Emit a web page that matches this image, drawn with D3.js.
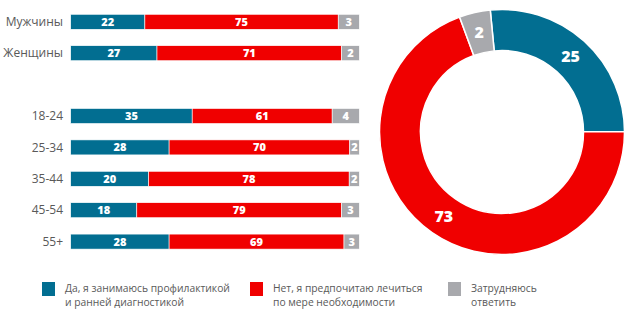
<!DOCTYPE html>
<html><head><meta charset="utf-8">
<script src="https://cdn.jsdelivr.net/npm/d3@7"></script>
<style>
html,body{margin:0;padding:0;background:#fff;}
svg{display:block;font-family:"Open Sans",sans-serif;}
</style></head>
<body><svg id="c" width="642" height="322"></svg>
<script>
// ---- data ----
const categories = ["Мужчины","Женщины","","18-24","25-34","35-44","45-54","55+"];
// printed values (labels)
const yesValues  = [22, 27, null, 35, 28, 20, 18, 28];
const noValues   = [75, 71, null, 61, 70, 78, 79, 69];
const hardValues = [3, 2, null, 4, 2, 2, 3, 3];
// segment lengths as drawn in the picture (% of bar length)
const yesShares  = [25.7, 29.9, null, 42.1, 34.1, 27.0, 22.9, 34.1];
const noShares   = [67.0, 64.0, null, 48.5, 62.6, 69.5, 71.0, 60.6];
const hardShares = [7.3, 6.1, null, 9.4, 3.3, 3.5, 6.1, 5.3];
// donut
const totalValues = [25, 73, 2];
const totalShares = [26.5, 69.4, 4.1];
const legendLines = [
  ["Да, я занимаюсь профилактикой","и ранней диагностикой"],
  ["Нет, я предпочитаю лечиться","по мере необходимости"],
  ["Затрудняюсь","ответить"]
];
const colors = ["#026e91","#f00000","#a8a9ad"];

const svg = d3.select("#c");

// ---- bars ----
const x = d3.scaleLinear().domain([0,100]).range([70.7,359.3]);
const y = d3.scalePoint().domain(categories.map((c,i)=>i)).range([21.8,241.6]);
const barH = 15;

const rows = categories.map((c,i)=>({c,i,
  vals:[yesValues[i],noValues[i],hardValues[i]],
  shares:[yesShares[i],noShares[i],hardShares[i]]})).filter(r=>r.c!=="");

const g = svg.append("g");
rows.forEach(r=>{
  let acc = 0;
  const yc = y(r.i);
  g.append("text").attr("x",63).attr("y",yc).attr("dy","0.35em")
    .attr("text-anchor","end").attr("fill","#595959").attr("font-size",12)
    .text(r.c);
  r.vals.forEach((v,k)=>{
    const s = r.shares[k];
    const x0 = x(acc), x1 = x(acc+s);
    g.append("rect").attr("x",x0).attr("y",yc-barH/2).attr("width",x1-x0).attr("height",barH)
      .attr("fill",colors[k]).attr("stroke","#fff").attr("stroke-width",0.6);
    g.append("text").attr("x",(x0+x1)/2).attr("y",yc).attr("dy","0.36em")
      .attr("text-anchor","middle").attr("fill","#fff").attr("font-size",11)
      .attr("font-weight",800).text(v);
    acc += s;
  });
});

// ---- donut ----
const cx = 502, cy = 132, R = 122.5, r0 = 81.5;
const start = -5.5*Math.PI/180;
const pie = d3.pie().sort(null).value(d=>d.s).startAngle(start).endAngle(start+2*Math.PI);
const arc = d3.arc().innerRadius(r0).outerRadius(R);
const dg = svg.append("g").attr("transform",`translate(${cx},${cy})`);
const arcs = pie(totalValues.map((v,i)=>({v,s:totalShares[i]})));
dg.selectAll("path").data(arcs).join("path")
  .attr("d",arc).attr("fill",(d,i)=>colors[i]).attr("stroke","#fff").attr("stroke-width",1.5);
dg.selectAll("text").data(arcs).join("text")
  .attr("transform",d=>`translate(${arc.centroid(d)})`)
  .attr("text-anchor","middle").attr("dy","0.36em")
  .attr("fill","#fff").attr("font-size",16).attr("font-weight",800)
  .text(d=>d.data.v);

// ---- legend ----
const lx = [42, 250, 448];
const lg = svg.append("g");
legendLines.forEach((lines,i)=>{
  lg.append("rect").attr("x",lx[i]).attr("y",282).attr("width",13).attr("height",14).attr("fill",colors[i]);
  lines.forEach((t,j)=>{
    lg.append("text").attr("x",lx[i]+23).attr("y",288+j*14.5).attr("dy","0.35em")
      .attr("fill","#595959").attr("font-size",10.3).text(t);
  });
});
</script></body></html>
